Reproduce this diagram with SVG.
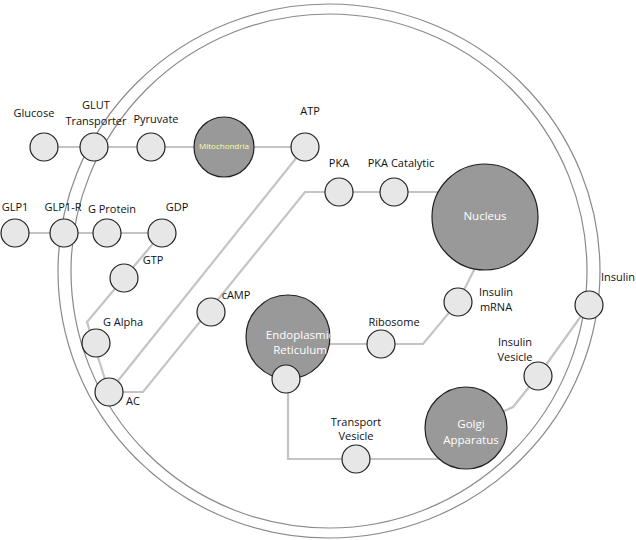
<svg xmlns="http://www.w3.org/2000/svg" width="636" height="540" viewBox="0 0 636 540">
<style>
.mem{fill:none;stroke:#8a8a8a;stroke-width:1.2}
.c{fill:none;stroke:#c4c4c4;stroke-width:2.2}
.s{fill:#e6e7e6;stroke:#231f20;stroke-width:1.2}
.b{fill:#999999;stroke:#231f20;stroke-width:1.2}
text{font-family:"Open Sans","Liberation Sans",sans-serif;font-size:11px;fill:#111;text-anchor:middle}
.w{fill:#fff;font-size:11.5px}
</style>
<rect width="636" height="540" fill="#fff"/>
<g id="membrane">
<ellipse class="mem" cx="329" cy="271" rx="271" ry="267"/>
<ellipse class="mem" cx="329" cy="271" rx="258" ry="257"/>
</g>
<g id="connectors">
<line class="c" x1="44" y1="147" x2="305" y2="147"/>
<line class="c" x1="15" y1="233" x2="162" y2="233"/>
<polyline class="c" points="162,233 124,278 87,322 109,392"/>
<line class="c" x1="109" y1="392" x2="305" y2="147"/>
<polyline class="c" points="109,392 143,392 305,192 485,192"/>
<polyline class="c" points="478,262 458,302 423,344 288,344"/>
<polyline class="c" points="288,379 288,459 466,459"/>
<polyline class="c" points="466,428 513,407 538,376 589,305"/>
</g>
<g id="glucose"><circle class="s" cx="44" cy="147" r="14"/><text x="34" y="117">Glucose</text></g>
<g id="glut"><circle class="s" cx="94" cy="147" r="14"/><text x="96" y="109">GLUT</text><text x="96" y="125">Transporter</text></g>
<g id="pyruvate"><circle class="s" cx="151" cy="147" r="14"/><text x="156" y="123">Pyruvate</text></g>
<g id="mitochondria"><circle class="b" cx="224" cy="147" r="30"/><text x="224" y="149" style="fill:#ffff99;font-size:8px">Mitochondria</text></g>
<g id="atp"><circle class="s" cx="305" cy="147" r="14"/><text x="310" y="115">ATP</text></g>
<g id="glp1"><circle class="s" cx="15" cy="233" r="14"/><text x="15" y="211">GLP1</text></g>
<g id="glp1r"><circle class="s" cx="64" cy="233" r="14"/><text x="63" y="211">GLP1-R</text></g>
<g id="gprotein"><circle class="s" cx="107" cy="233" r="14"/><text x="112" y="213">G Protein</text></g>
<g id="gdp"><circle class="s" cx="162" cy="233" r="14"/><text x="177" y="211">GDP</text></g>
<g id="gtp"><circle class="s" cx="124" cy="278" r="14"/><text x="153" y="264">GTP</text></g>
<g id="galpha"><circle class="s" cx="96" cy="343" r="14"/><text x="123" y="326">G Alpha</text></g>
<g id="ac"><circle class="s" cx="109" cy="392" r="14"/><text x="133" y="405">AC</text></g>
<g id="camp"><circle class="s" cx="211" cy="312" r="14"/><text x="236" y="299">cAMP</text></g>
<g id="pka"><circle class="s" cx="339" cy="192" r="14"/><text x="339" y="167">PKA</text></g>
<g id="pkacat"><circle class="s" cx="394" cy="192" r="14"/><text x="401" y="167">PKA Catalytic</text></g>
<g id="nucleus"><circle class="b" cx="485" cy="217" r="53"/><text class="w" x="485" y="220">Nucleus</text></g>
<g id="mrna"><circle class="s" cx="458" cy="302" r="14"/><text x="496" y="296">Insulin</text><text x="496" y="311">mRNA</text></g>
<g id="ribosome"><circle class="s" cx="381" cy="344" r="14"/><text x="394" y="326">Ribosome</text></g>
<g id="er"><circle class="b" cx="288" cy="337" r="42"/><text class="w" x="300" y="339">Endoplasmic</text><text class="w" x="300" y="354">Reticulum</text><circle class="s" cx="286" cy="379" r="14"/></g>
<g id="tvesicle"><circle class="s" cx="356" cy="459" r="14"/><text x="356" y="426">Transport</text><text x="356" y="440">Vesicle</text></g>
<g id="golgi"><circle class="b" cx="466" cy="428" r="41"/><text class="w" x="471" y="428">Golgi</text><text class="w" x="471" y="444">Apparatus</text></g>
<g id="ivesicle"><circle class="s" cx="538" cy="376" r="14"/><text x="515" y="346">Insulin</text><text x="515" y="361">Vesicle</text></g>
<g id="insulin"><circle class="s" cx="589" cy="305" r="14"/><text x="618" y="281">Insulin</text></g>
</svg>
